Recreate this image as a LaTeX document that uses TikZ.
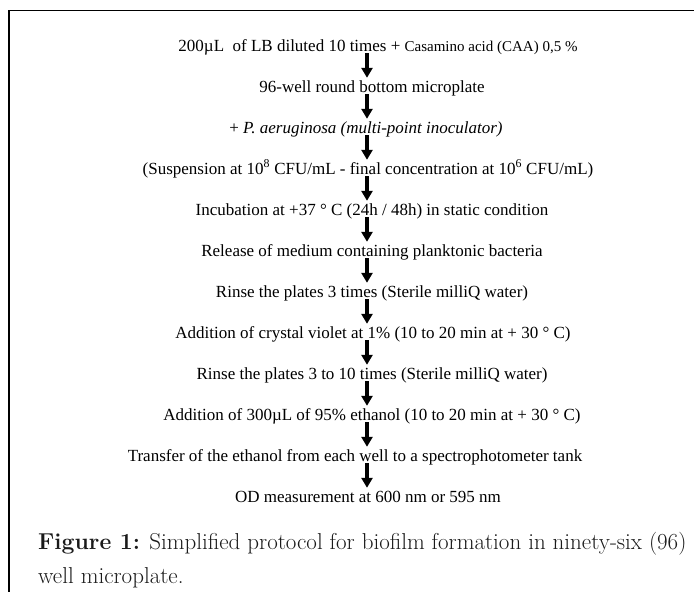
\documentclass[tikz,border=0pt]{standalone}
\usepackage{fontspec}
\usepackage{xcolor}
\usetikzlibrary{arrows.meta}
\newfontfamily\stepfont{Liberation Serif}
\definecolor{captiongray}{HTML}{1A1A1A}

\tikzset{
  stepnode/.style={font=\stepfont\fontsize{17}{20}\selectfont, inner sep=0pt,
    text height=14pt, text depth=2pt, anchor=base},
  steparrow/.style={-{Triangle[length=10pt,width=11pt]}, line width=3.4pt},
  captext/.style={font=\fontsize{23}{34}\selectfont, text=captiongray,
    inner sep=0pt, align=left, anchor=base west}
}

\begin{document}
\begin{tikzpicture}[x=1pt,y=-1pt]
		\useasboundingbox (0,0) rectangle (694,592);
		\draw[line width=1.4pt] (9,592) -- (9,10.5) -- (694,10.5);
		\coordinate (axis) at (367,0);
		% protocol steps
		\node[stepnode] (s1) at (378,51) {200µL\ \ of LB diluted 10 times + {\fontsize{15}{18}\selectfont Casamino acid (CAA) 0,5 \%}};
		\node[stepnode] (s2) at (372,92) {96-well round bottom microplate};
		\node[stepnode] (s3) at (366,133) {+ \textit{P. aeruginosa (multi-point inoculator)}};
		\node[stepnode] (s4) at (368,174) {(Suspension at 10\textsuperscript{8} CFU/mL - final concentration at 10\textsuperscript{6} CFU/mL)};
		\node[stepnode] (s5) at (372,215) {Incubation at +37 ° C (24h / 48h) in static condition};
		\node[stepnode] (s6) at (372,256) {Release of medium containing planktonic bacteria};
		\node[stepnode] (s7) at (372,297) {Rinse the plates 3 times (Sterile milliQ water)};
		\node[stepnode] (s8) at (373,338) {Addition of crystal violet at 1\% (10 to 20 min at + 30 ° C)};
		\node[stepnode] (s9) at (372,379) {Rinse the plates 3 to 10 times (Sterile milliQ water)};
		\node[stepnode] (s10) at (372,420) {Addition of 300µL of 95\% ethanol (10 to 20 min at + 30 ° C)};
		\node[stepnode] (s11) at (355,461) {Transfer of the ethanol from each well to a spectrophotometer tank};
		\node[stepnode] (s12) at (368,502) {OD measurement at 600 nm or 595 nm};
		% arrows between steps
		\draw[steparrow] (s1.south -| axis) -- (s2.north -| axis);
		\draw[steparrow] (s2.south -| axis) -- (s3.north -| axis);
		\draw[steparrow] (s3.south -| axis) -- (s4.north -| axis);
		\draw[steparrow] (s4.south -| axis) -- (s5.north -| axis);
		\draw[steparrow] (s5.south -| axis) -- (s6.north -| axis);
		\draw[steparrow] (s6.south -| axis) -- (s7.north -| axis);
		\draw[steparrow] (s7.south -| axis) -- (s8.north -| axis);
		\draw[steparrow] (s8.south -| axis) -- (s9.north -| axis);
		\draw[steparrow] (s9.south -| axis) -- (s10.north -| axis);
		\draw[steparrow] (s10.south -| axis) -- (s11.north -| axis);
		\draw[steparrow] (s11.south -| axis) -- (s12.north -| axis);
		% caption (base anchor sits on the last line)
		\node[captext] (cap) at (38,583) {\textbf{Figure 1:} Simplified protocol for biofilm formation in ninety-six (96)\\well microplate.};
	\end{tikzpicture}
\end{document}
